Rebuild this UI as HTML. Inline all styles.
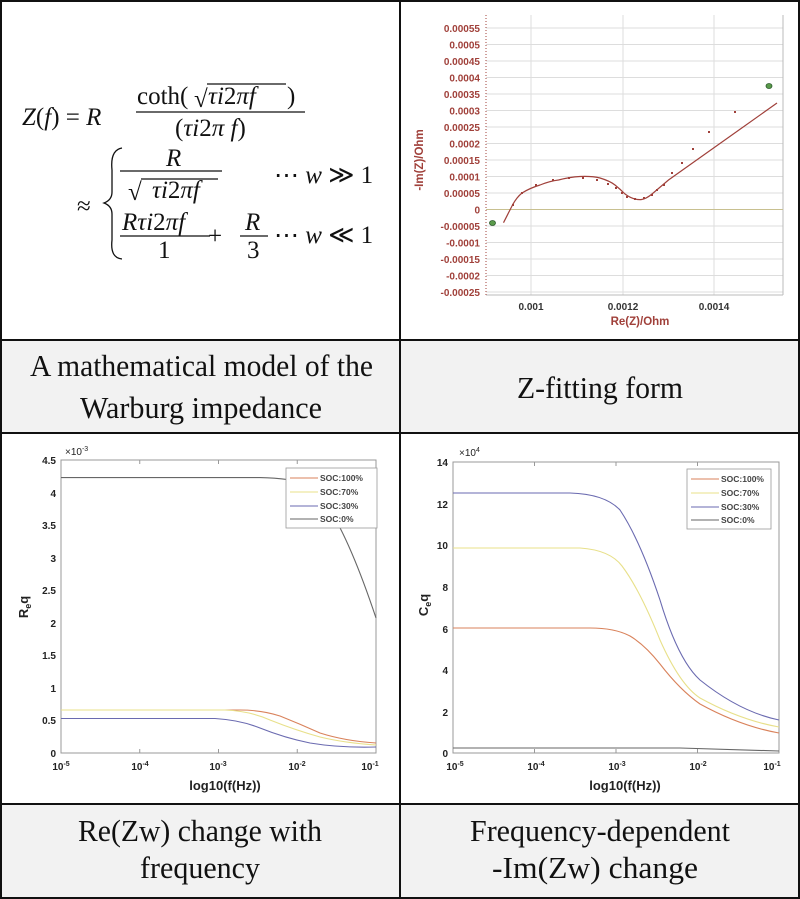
<!DOCTYPE html>
<html><head><meta charset="utf-8"><style>
html,body{margin:0;padding:0;background:#fff}
svg{display:block}
.f{font-family:"Liberation Serif",serif;font-size:25px;fill:#111}
.i{font-style:italic}
.lab{font-family:"Liberation Serif",serif;font-size:31px;fill:#111}
.rt{font-family:"Liberation Sans",sans-serif;font-size:10px;font-weight:bold;fill:#a0403a}
.mt{font-family:"Liberation Sans",sans-serif;font-size:10px;font-weight:bold;fill:#222}
.lg{font-family:"Liberation Sans",sans-serif;font-size:8.5px;font-weight:bold;fill:#444}
</style></head><body>
<svg width="800" height="899" viewBox="0 0 800 899" xmlns="http://www.w3.org/2000/svg">
<rect x="0" y="340" width="800" height="93" fill="#f2f2f2"/>
<rect x="0" y="804" width="800" height="95" fill="#f2f2f2"/>
<g stroke="#111" stroke-width="2" fill="none">
<rect x="1" y="1" width="798" height="897"/>
<line x1="400" y1="0" x2="400" y2="899"/>
<line x1="0" y1="340" x2="800" y2="340"/>
<line x1="0" y1="433" x2="800" y2="433"/>
<line x1="0" y1="804" x2="800" y2="804"/>
</g>

<!-- formula -->
<text class="f" x="22" y="125"><tspan class="i">Z</tspan>(<tspan class="i">f</tspan>) = <tspan class="i">R</tspan></text>
<text class="f" x="137" y="104">coth(</text>
<text class="f" x="194" y="107">√</text>
<line x1="207" y1="84" x2="286" y2="84" stroke="#111" stroke-width="1.2"/>
<text class="f" x="208" y="104"><tspan class="i">τi</tspan>2<tspan class="i">πf</tspan></text>
<text class="f" x="287" y="104">)</text>
<line x1="136" y1="112" x2="305" y2="112" stroke="#111" stroke-width="1.3"/>
<text class="f" x="175" y="136">(<tspan class="i">τi</tspan>2<tspan class="i">π f</tspan>)</text>
<text class="f" x="77" y="214">≈</text>
<path d="M122,148 Q110,150 112,170 L112,192 Q112,200 104,203 Q112,206 112,214 L112,240 Q110,258 122,259" stroke="#111" stroke-width="1.3" fill="none"/>
<text class="f i" x="166" y="166">R</text>
<line x1="120" y1="171" x2="222" y2="171" stroke="#111" stroke-width="1.3"/>
<text class="f" x="128" y="200">√</text>
<line x1="141" y1="179" x2="218" y2="179" stroke="#111" stroke-width="1.2"/>
<text class="f" x="152" y="198"><tspan class="i">τi</tspan>2<tspan class="i">πf</tspan></text>
<text class="f" x="274" y="183">⋯ <tspan class="i">w</tspan> ≫ 1</text>
<text class="f" x="122" y="230"><tspan class="i">Rτi</tspan>2<tspan class="i">πf</tspan></text>
<line x1="120" y1="236" x2="210" y2="236" stroke="#111" stroke-width="1.3"/>
<text class="f" x="158" y="258">1</text>
<text class="f" x="208" y="244">+</text>
<text class="f i" x="245" y="230">R</text>
<line x1="240" y1="236" x2="268" y2="236" stroke="#111" stroke-width="1.3"/>
<text class="f" x="247" y="258">3</text>
<text class="f" x="274" y="243">⋯ <tspan class="i">w</tspan> ≪ 1</text>

<!-- Nyquist plot -->
<g stroke="#ddd" stroke-width="1">
<line x1="531" y1="15" x2="531" y2="295"/><line x1="623" y1="15" x2="623" y2="295"/><line x1="714" y1="15" x2="714" y2="295"/>
<line x1="486" y1="28" x2="783" y2="28"/><line x1="486" y1="44.5" x2="783" y2="44.5"/><line x1="486" y1="61" x2="783" y2="61"/><line x1="486" y1="77.5" x2="783" y2="77.5"/><line x1="486" y1="94" x2="783" y2="94"/><line x1="486" y1="110.5" x2="783" y2="110.5"/><line x1="486" y1="127" x2="783" y2="127"/><line x1="486" y1="143.5" x2="783" y2="143.5"/><line x1="486" y1="160" x2="783" y2="160"/><line x1="486" y1="176.5" x2="783" y2="176.5"/><line x1="486" y1="193" x2="783" y2="193"/><line x1="486" y1="226" x2="783" y2="226"/><line x1="486" y1="242.5" x2="783" y2="242.5"/><line x1="486" y1="259" x2="783" y2="259"/><line x1="486" y1="275.5" x2="783" y2="275.5"/><line x1="486" y1="292" x2="783" y2="292"/>
<line x1="486" y1="295" x2="783" y2="295" stroke="#bbb"/><line x1="783" y1="15" x2="783" y2="295" stroke="#bbb"/>
</g>
<line x1="486" y1="209.5" x2="783" y2="209.5" stroke="#c8c090" stroke-width="1"/>
<line x1="486" y1="15" x2="486" y2="295" stroke="#a0403a" stroke-width="1" stroke-dasharray="1,2"/>
<g class="rt" text-anchor="end">
<text x="480" y="32">0.00055</text><text x="480" y="48.5">0.0005</text><text x="480" y="65">0.00045</text><text x="480" y="81.5">0.0004</text><text x="480" y="98">0.00035</text><text x="480" y="114.5">0.0003</text><text x="480" y="131">0.00025</text><text x="480" y="147.5">0.0002</text><text x="480" y="164">0.00015</text><text x="480" y="180.5">0.0001</text><text x="480" y="197">0.00005</text><text x="480" y="213.5">0</text><text x="480" y="230">-0.00005</text><text x="480" y="246.5">-0.0001</text><text x="480" y="263">-0.00015</text><text x="480" y="279.5">-0.0002</text><text x="480" y="296">-0.00025</text>
</g>
<g class="rt" style="fill:#333" text-anchor="middle"><text x="531" y="310">0.001</text><text x="623" y="310">0.0012</text><text x="714" y="310">0.0014</text></g>
<text class="rt" style="fill:#a0403a;font-size:11.5px" x="640" y="325" text-anchor="middle">Re(Z)/Ohm</text>
<text class="rt" style="font-size:11.5px" transform="translate(423,160) rotate(-90)" text-anchor="middle">-Im(Z)/Ohm</text>
<path d="M503.5,222.7 L512.7,204.6 Q517,197 522,193 Q530,188 540,185 Q550,181 558.5,180 Q570,177 580,176.5 Q592,176 600,178 Q610,181 615,185 Q620,189 625,194 Q633,200 641,199.6 Q646,199 652,194 L668.5,180 L777,103" stroke="#a0403a" stroke-width="1.2" fill="none"/>
<g fill="#a0403a">
<rect x="512" y="204" width="2" height="2"/><rect x="521" y="192" width="2" height="2"/><rect x="535" y="184" width="2" height="2"/><rect x="552" y="179" width="2" height="2"/><rect x="568" y="177" width="2" height="2"/><rect x="582" y="177" width="2" height="2"/><rect x="596" y="179" width="2" height="2"/><rect x="607" y="183" width="2" height="2"/><rect x="615" y="187" width="2" height="2"/><rect x="621" y="192" width="2" height="2"/><rect x="626" y="196" width="2" height="2"/><rect x="634" y="198" width="2" height="2"/><rect x="643" y="197" width="2" height="2"/><rect x="651" y="194" width="2" height="2"/><rect x="656" y="189" width="2" height="2"/><rect x="663" y="184" width="2" height="2"/><rect x="671" y="172" width="2" height="2"/><rect x="681" y="162" width="2" height="2"/><rect x="692" y="148" width="2" height="2"/><rect x="708" y="131" width="2" height="2"/><rect x="734" y="111" width="2" height="2"/>
</g>
<ellipse cx="492.5" cy="223" rx="3" ry="2.5" fill="#5a9a4a" stroke="#2a5a2a" stroke-width="0.8"/>
<ellipse cx="769" cy="86" rx="3" ry="2.5" fill="#5a9a4a" stroke="#2a5a2a" stroke-width="0.8"/>

<!-- Req plot -->
<rect x="61" y="460" width="315" height="293" fill="none" stroke="#999" stroke-width="1"/>
<g stroke="#999" stroke-width="1">
<line x1="139.75" y1="753" x2="139.75" y2="749"/><line x1="218.5" y1="753" x2="218.5" y2="749"/><line x1="297.25" y1="753" x2="297.25" y2="749"/>
<line x1="139.75" y1="460" x2="139.75" y2="464"/><line x1="218.5" y1="460" x2="218.5" y2="464"/><line x1="297.25" y1="460" x2="297.25" y2="464"/>
</g>
<g class="mt" text-anchor="end">
<text x="56" y="464">4.5</text><text x="56" y="497">4</text><text x="56" y="529">3.5</text><text x="56" y="562">3</text><text x="56" y="594">2.5</text><text x="56" y="627">2</text><text x="56" y="659">1.5</text><text x="56" y="692">1</text><text x="56" y="724">0.5</text><text x="56" y="757">0</text>
</g>
<text class="mt" x="65" y="455" style="font-weight:normal">×10<tspan dy="-4" font-size="7">-3</tspan></text>
<g class="mt" text-anchor="middle">
<text x="61" y="770">10<tspan dy="-4" font-size="7">-5</tspan></text><text x="140" y="770">10<tspan dy="-4" font-size="7">-4</tspan></text><text x="218" y="770">10<tspan dy="-4" font-size="7">-3</tspan></text><text x="297" y="770">10<tspan dy="-4" font-size="7">-2</tspan></text><text x="370" y="770">10<tspan dy="-4" font-size="7">-1</tspan></text>
</g>
<text class="mt" style="font-size:13px" x="225" y="790" text-anchor="middle">log10(f(Hz))</text>
<text class="mt" style="font-size:13px" transform="translate(28,607) rotate(-90)" text-anchor="middle">R<tspan font-size="9" dy="3">e</tspan><tspan dy="-3">q</tspan></text>
<path d="M61,710 L240,710 Q262,710 280,716 Q300,724 320,733 Q345,741 376,743" stroke="#d9825b" stroke-width="1.1" fill="none"/>
<path d="M61,710 L225,710 Q250,711 270,720 Q295,730 320,737 Q345,743 376,745" stroke="#e8e08a" stroke-width="1.1" fill="none"/>
<path d="M61,718.5 L215,718.5 Q240,720 260,728 Q285,738 310,743 Q340,748 376,747" stroke="#6a6ab0" stroke-width="1.1" fill="none"/>
<path d="M61,477.6 L260,477.6 Q290,478 310,485 Q340,510 376,618" stroke="#666" stroke-width="1.1" fill="none"/>
<rect x="286" y="468" width="91" height="60" fill="#fff" stroke="#999" stroke-width="0.8"/>
<line x1="290" y1="478" x2="318" y2="478" stroke="#d9825b"/><text class="lg" x="320" y="481">SOC:100%</text>
<line x1="290" y1="492" x2="318" y2="492" stroke="#e8e08a"/><text class="lg" x="320" y="495">SOC:70%</text>
<line x1="290" y1="506" x2="318" y2="506" stroke="#6a6ab0"/><text class="lg" x="320" y="509">SOC:30%</text>
<line x1="290" y1="519" x2="318" y2="519" stroke="#666"/><text class="lg" x="320" y="522">SOC:0%</text>

<!-- Ceq plot -->
<rect x="453" y="462" width="326" height="291" fill="none" stroke="#999" stroke-width="1"/>
<g stroke="#999" stroke-width="1">
<line x1="534.5" y1="753" x2="534.5" y2="749"/><line x1="616" y1="753" x2="616" y2="749"/><line x1="697.5" y1="753" x2="697.5" y2="749"/>
<line x1="534.5" y1="462" x2="534.5" y2="466"/><line x1="616" y1="462" x2="616" y2="466"/><line x1="697.5" y1="462" x2="697.5" y2="466"/>
</g>
<g class="mt" text-anchor="end">
<text x="448" y="466">14</text><text x="448" y="508">12</text><text x="448" y="549">10</text><text x="448" y="591">8</text><text x="448" y="633">6</text><text x="448" y="674">4</text><text x="448" y="716">2</text><text x="448" y="757">0</text>
</g>
<text class="mt" x="459" y="456" style="font-weight:normal">×10<tspan dy="-4" font-size="7">4</tspan></text>
<g class="mt" text-anchor="middle">
<text x="455" y="770">10<tspan dy="-4" font-size="7">-5</tspan></text><text x="536" y="770">10<tspan dy="-4" font-size="7">-4</tspan></text><text x="617" y="770">10<tspan dy="-4" font-size="7">-3</tspan></text><text x="698" y="770">10<tspan dy="-4" font-size="7">-2</tspan></text><text x="772" y="770">10<tspan dy="-4" font-size="7">-1</tspan></text>
</g>
<text class="mt" style="font-size:13px" x="625" y="790" text-anchor="middle">log10(f(Hz))</text>
<text class="mt" style="font-size:13px" transform="translate(428,605) rotate(-90)" text-anchor="middle">C<tspan font-size="9" dy="3">e</tspan><tspan dy="-3">q</tspan></text>
<path d="M453,628 L590,628 Q615,628 630,636 Q645,645 660,664 Q680,690 700,704 Q740,726 779,733" stroke="#d9825b" stroke-width="1.1" fill="none"/>
<path d="M453,548 L580,548 Q610,550 622,566 Q640,590 660,640 Q680,685 700,698 Q740,720 779,727" stroke="#e8e08a" stroke-width="1.1" fill="none"/>
<path d="M453,493 L570,493 Q605,494 620,510 Q640,540 660,600 Q678,660 700,680 Q740,712 779,720" stroke="#6a6ab0" stroke-width="1.1" fill="none"/>
<path d="M453,748 L680,748 Q720,749 779,751" stroke="#666" stroke-width="1.1" fill="none"/>
<rect x="687" y="469" width="84" height="60" fill="#fff" stroke="#999" stroke-width="0.8"/>
<line x1="691" y1="479" x2="719" y2="479" stroke="#d9825b"/><text class="lg" x="721" y="482">SOC:100%</text>
<line x1="691" y1="493" x2="719" y2="493" stroke="#e8e08a"/><text class="lg" x="721" y="496">SOC:70%</text>
<line x1="691" y1="507" x2="719" y2="507" stroke="#6a6ab0"/><text class="lg" x="721" y="510">SOC:30%</text>
<line x1="691" y1="520" x2="719" y2="520" stroke="#666"/><text class="lg" x="721" y="523">SOC:0%</text>

<!-- labels -->
<text class="lab" x="30" y="376" textLength="343" lengthAdjust="spacingAndGlyphs">A mathematical model of the</text>
<text class="lab" x="80" y="418" textLength="242" lengthAdjust="spacingAndGlyphs">Warburg impedance</text>
<text class="lab" x="517" y="398" textLength="166" lengthAdjust="spacingAndGlyphs">Z-fitting form</text>
<text class="lab" x="78" y="841" textLength="244" lengthAdjust="spacingAndGlyphs">Re(Zw) change with</text>
<text class="lab" x="140" y="878" textLength="120" lengthAdjust="spacingAndGlyphs">frequency</text>
<text class="lab" x="470" y="841" textLength="260" lengthAdjust="spacingAndGlyphs">Frequency-dependent</text>
<text class="lab" x="492" y="878" textLength="206" lengthAdjust="spacingAndGlyphs">-Im(Zw) change</text>
</svg>
</body></html>
